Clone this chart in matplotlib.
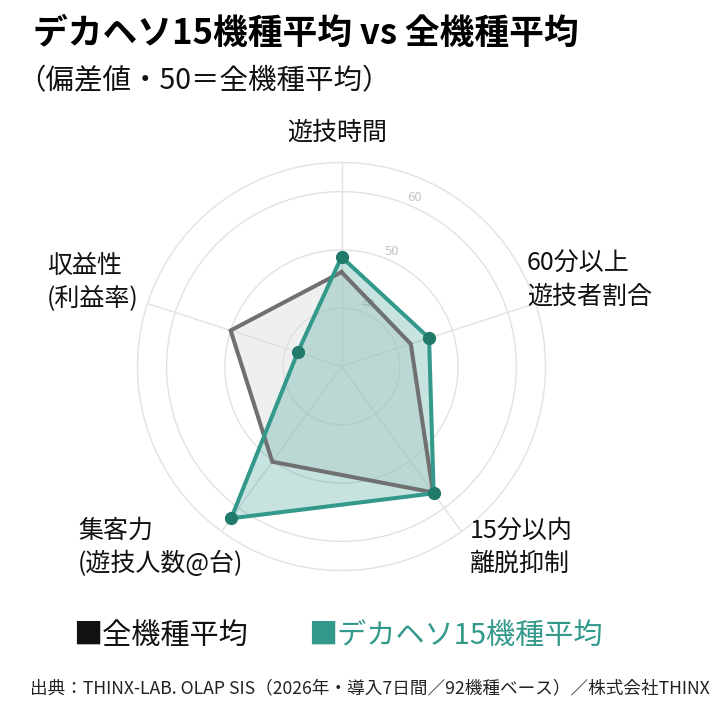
import numpy as np
import matplotlib.pyplot as plt

plt.rcParams['font.family'] = ['Noto Sans CJK JP', 'DejaVu Sans']

# axis names, clockwise from the top
categories = [["遊技時間"],
              ["60分以上", "遊技者割合"],
              ["15分以内", "離脱抑制"],
              ["集客力", "(遊技人数@台)"],
              ["収益性", "(利益率)"]]
all_avg = [46.2, 42.5, 56.7, 50.2, 50.0]        # 全機種平均
dekaheso_avg = [48.8, 45.8, 56.9, 62.2, 37.9]   # デカヘソ15機種平均
ring_values = [40, 50, 60]

W, H = 718, 715
fig = plt.figure(figsize=(W / 100, H / 100), dpi=100)

def fx(x):
    return x / W

def fy(y):
    return 1 - y / H

# polar axes: centre (341.5, 366.5) px, radius 204 px
cx, cy, rad = 341.5, 366.5, 204
ax = fig.add_axes([fx(cx - rad), fy(cy + rad), 2 * rad / W, 2 * rad / H], polar=True)
ax.set_theta_zero_location('N')
ax.set_theta_direction(-1)
ax.set_ylim(30, 65)

n = len(categories)
theta = np.deg2rad(np.arange(n) * 360 / n)
ax.set_xticks(theta)
ax.set_xticklabels([])
ax.set_yticks(ring_values)
ax.set_yticklabels([])
ax.grid(color='#e2e2e2', lw=1.0)
ax.spines['polar'].set_color('#e2e2e2')
ax.spines['polar'].set_linewidth(1.0)
ax.set_facecolor('none')

grey = '#707070'
teal = '#33998b'
dot = '#1f7a6b'

tt = np.append(theta, theta[0])
ga = np.append(all_avg, all_avg[0])
da = np.append(dekaheso_avg, dekaheso_avg[0])

ax.fill(tt, ga, color='#dde1e1', alpha=0.48, zorder=2, lw=0)
ax.fill(tt, da, color=teal, alpha=0.27, zorder=3, lw=0)
ax.plot(tt, ga, color=grey, lw=2.9, zorder=4, solid_joinstyle='miter')
ax.plot(tt, da, color=teal, lw=2.9, zorder=5, solid_joinstyle='miter')
ax.plot(theta, dekaheso_avg, 'o', color=dot, ms=8.5, zorder=6)

# ring labels
for v in ring_values:
    ax.text(np.deg2rad(23.5), v + 1.6, str(v), color='#c4c4c4', fontsize=9.5,
            ha='center', va='center', zorder=1)

# axis labels (anchors in px)
label_pos = [(337, 133, 'center'), (527, 264, 'left'), (470, 531, 'left'),
             (78, 531, 'left'), (47, 266, 'left')]
for lines, (x, y, ha) in zip(categories, label_pos):
    for i, s in enumerate(lines):
        fig.text(fx(x), fy(y + i * 33), s, fontsize=18, ha=ha, va='center', color='#111111')

# title
fig.text(fx(33), fy(33), "デカヘソ15機種平均 vs 全機種平均", fontsize=25,
         fontweight='bold', ha='left', va='center', color='#000000')
fig.text(fx(17), fy(81), "（偏差値・50＝全機種平均）", fontsize=20.5,
         ha='left', va='center', color='#111111')

# legend
fig.text(fx(73), fy(636), "■全機種平均", fontsize=21, ha='left', va='center', color='#111111')
fig.text(fx(308), fy(636), "■デカヘソ15機種平均", fontsize=21, ha='left', va='center', color=teal)

# source
fig.text(fx(30), fy(688), "出典：THINX-LAB. OLAP SIS（2026年・導入7日間／92機種ベース）／株式会社THINX",
         fontsize=12.7, ha='left', va='center', color='#222222')

fig.savefig('out.png', dpi=100, facecolor='white')
